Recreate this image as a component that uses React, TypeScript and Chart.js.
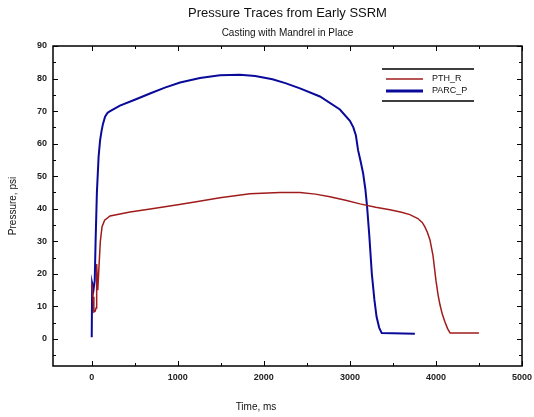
import React, { useEffect, useRef } from "react";
import { Chart, registerables } from "chart.js";

Chart.register(...registerables);

const titleText = "Pressure Traces from Early SSRM";
const subtitleText = "Casting with Mandrel in Place";
const xAxisTitle = "Time, ms";
const yAxisTitle = "Pressure, psi";

const seriesNames = ["PTH_R", "PARC_P"];
const seriesColors = ["#a01c1c", "#0a0a9a"];

const redTimes = [0, 15, 25, 40, 50, 55, 60, 70, 80, 100, 120, 150, 213, 445, 700, 1000, 1250, 1490, 1838, 2187, 2420, 2600, 2768, 2950, 3117, 3300, 3465, 3600, 3697, 3790, 3840, 3870, 3900, 3930, 3965, 4000, 4025, 4047, 4075, 4105, 4135, 4165, 4500];
const redValues = [17, 13, 8.3, 8.5, 9.5, 14, 23, 15, 20, 30, 34.5, 36.5, 37.8, 39, 40, 41.2, 42.3, 43.4, 44.6, 45, 45, 44.5, 43.7, 42.6, 41.5, 40.5, 39.7, 38.9, 38.2, 37, 35.8, 34.5, 32.8, 30.5, 25.8, 18, 13.5, 10.5, 7.5, 5.2, 3.2, 1.8, 1.8];

const blueTimes = [0, 5, 20, 35, 45, 60, 80, 97, 115, 130, 155, 185, 214, 328, 500, 677, 850, 1027, 1258, 1490, 1722, 1900, 2100, 2250, 2420, 2652, 2884, 3000, 3040, 3070, 3095, 3125, 3153, 3180, 3200, 3225, 3255, 3285, 3310, 3340, 3370, 3755];
const blueValues = [0.5, 17, 15, 18, 30, 45, 56, 61, 64, 66, 68.3, 69.5, 70, 71.7, 73.5, 75.4, 77.2, 78.8, 80.2, 81, 81.2, 80.8, 79.8, 78.6, 77, 74.5, 70.5, 67, 65, 62.5, 58, 54.5, 51, 46, 40.6, 32, 20, 12, 6.8, 3.5, 1.8, 1.6];

const xTicks = [0, 1000, 2000, 3000, 4000, 5000];
const xMinorTicks = [500, 1500, 2500, 3500, 4500];
const yTicks = [0, 10, 20, 30, 40, 50, 60, 70, 80, 90];
const yMinorTicks = [-5, 5, 15, 25, 35, 45, 55, 65, 75, 85];

const FONT = "'Liberation Sans', Arial, sans-serif";

const decorPlugin = {
  id: "decor",
  afterDraw(chart: any) {
    const ctx = chart.ctx as CanvasRenderingContext2D;
    const { left, right, top, bottom } = chart.chartArea;
    const xs = chart.scales.x;
    const ys = chart.scales.y;
    ctx.save();
    ctx.strokeStyle = "#000";
    ctx.fillStyle = "#000";
    ctx.lineWidth = 1.5;
    ctx.strokeRect(left, top, right - left, bottom - top);
    ctx.lineWidth = 1;
    ctx.beginPath();
    const major = 5, minor = 3;
    xTicks.forEach((v) => {
      const p = Math.round(xs.getPixelForValue(v)) + 0.5;
      ctx.moveTo(p, bottom); ctx.lineTo(p, bottom - major);
      ctx.moveTo(p, top); ctx.lineTo(p, top + major);
    });
    xMinorTicks.forEach((v) => {
      const p = Math.round(xs.getPixelForValue(v)) + 0.5;
      ctx.moveTo(p, bottom); ctx.lineTo(p, bottom - minor);
      ctx.moveTo(p, top); ctx.lineTo(p, top + minor);
    });
    yTicks.forEach((v) => {
      const p = Math.round(ys.getPixelForValue(v)) + 0.5;
      ctx.moveTo(left, p); ctx.lineTo(left + major, p);
      ctx.moveTo(right, p); ctx.lineTo(right - major, p);
    });
    yMinorTicks.forEach((v) => {
      const p = Math.round(ys.getPixelForValue(v)) + 0.5;
      ctx.moveTo(left, p); ctx.lineTo(left + minor, p);
      ctx.moveTo(right, p); ctx.lineTo(right - minor, p);
    });
    ctx.stroke();

    ctx.font = `bold 9px ${FONT}`;
    ctx.fillStyle = "#222";
    ctx.textAlign = "center";
    ctx.textBaseline = "middle";
    xTicks.forEach((v) => {
      ctx.fillText(String(v), xs.getPixelForValue(v), bottom + 12);
    });
    ctx.textAlign = "right";
    yTicks.forEach((v) => {
      ctx.fillText(String(v), left - 6, ys.getPixelForValue(v));
    });

    ctx.fillStyle = "#111";
    ctx.textAlign = "center";
    ctx.font = `13px ${FONT}`;
    ctx.fillText(titleText, (left + right) / 2, 13);
    ctx.font = `10px ${FONT}`;
    ctx.fillText(subtitleText, (left + right) / 2, 33);
    ctx.font = `10px ${FONT}`;
    ctx.fillText(xAxisTitle, 256, 407);
    ctx.save();
    ctx.translate(13, (top + bottom) / 2);
    ctx.rotate(-Math.PI / 2);
    ctx.fillText(yAxisTitle, 0, 0);
    ctx.restore();

    // legend
    const lx0 = 382, lx1 = 474, ly0 = 69, ly1 = 101;
    ctx.strokeStyle = "#000";
    ctx.lineWidth = 1.5;
    ctx.beginPath();
    ctx.moveTo(lx0, ly0); ctx.lineTo(lx1, ly0);
    ctx.moveTo(lx0, ly1); ctx.lineTo(lx1, ly1);
    ctx.stroke();
    const rows = [79, 91];
    chart.data.datasets.forEach((ds: any, i: number) => {
      ctx.strokeStyle = ds.borderColor;
      ctx.lineWidth = ds.borderWidth + (i === 1 ? 1 : 0);
      ctx.beginPath();
      ctx.moveTo(386, rows[i]); ctx.lineTo(423, rows[i]);
      ctx.stroke();
      ctx.fillStyle = "#111";
      ctx.textAlign = "left";
      ctx.font = `9px ${FONT}`;
      ctx.fillText(ds.label, 432, rows[i]);
    });
    ctx.restore();
  },
};

export default function App() {
  const ref = useRef<HTMLCanvasElement | null>(null);
  useEffect(() => {
    document.body.style.margin = "0";
    const canvas = ref.current!;
    const chart = new Chart(canvas, {
      type: "scatter",
      data: {
        datasets: [
          {
            label: seriesNames[0],
            data: redTimes.map((t, i) => ({ x: t, y: redValues[i] })),
            borderColor: seriesColors[0],
            borderWidth: 1.5,
            showLine: true,
            pointRadius: 0,
            tension: 0,
          },
          {
            label: seriesNames[1],
            data: blueTimes.map((t, i) => ({ x: t, y: blueValues[i] })),
            borderColor: seriesColors[1],
            borderWidth: 2,
            showLine: true,
            pointRadius: 0,
            tension: 0,
          },
        ],
      },
      options: {
        animation: false,
        responsive: false,
        layout: { padding: { left: 53, right: 12, top: 46, bottom: 51 } },
        plugins: { legend: { display: false }, tooltip: { enabled: false }, title: { display: false } },
        scales: {
          x: { type: "linear", min: -450, max: 5000, display: false },
          y: { type: "linear", min: -8.3, max: 90, display: false },
        },
      },
      plugins: [decorPlugin],
    });
    return () => chart.destroy();
  }, []);
  return <canvas ref={ref} width={534} height={417} style={{ display: "block" }} />;
}
